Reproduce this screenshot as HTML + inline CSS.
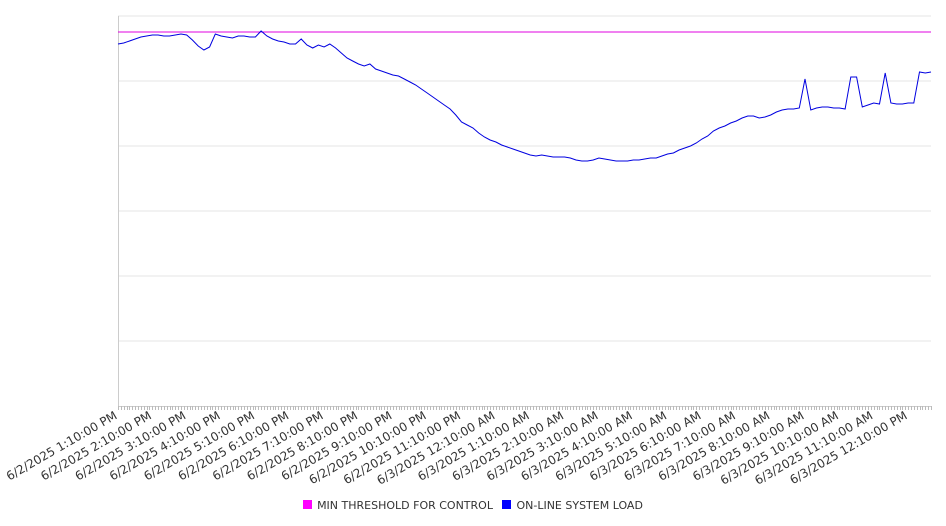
<!DOCTYPE html>
<html><head><meta charset="utf-8"><style>
body{margin:0;background:#fff;font-family:"DejaVu Sans","Liberation Sans",sans-serif}
svg{display:block}
</style></head><body>
<svg id="chart" width="946" height="526" xmlns="http://www.w3.org/2000/svg"></svg>
<script>
const timeLabels=["6/2/2025 1:10:00 PM","6/2/2025 2:10:00 PM","6/2/2025 3:10:00 PM","6/2/2025 4:10:00 PM","6/2/2025 5:10:00 PM","6/2/2025 6:10:00 PM","6/2/2025 7:10:00 PM","6/2/2025 8:10:00 PM","6/2/2025 9:10:00 PM","6/2/2025 10:10:00 PM","6/2/2025 11:10:00 PM","6/3/2025 12:10:00 AM","6/3/2025 1:10:00 AM","6/3/2025 2:10:00 AM","6/3/2025 3:10:00 AM","6/3/2025 4:10:00 AM","6/3/2025 5:10:00 AM","6/3/2025 6:10:00 AM","6/3/2025 7:10:00 AM","6/3/2025 8:10:00 AM","6/3/2025 9:10:00 AM","6/3/2025 10:10:00 AM","6/3/2025 11:10:00 AM","6/3/2025 12:10:00 PM"];
const loadValues=[362,363,365,367,369,370,371,371,370,370,371,372,371,366,360,356,359,372,370,369,368,370,370,369,369,375,370,367,365,364,362,362,367,361,358,361,359,362,358,353,348,345,342,340,342,337,335,333,331,330,327,324,321,317,313,309,305,301,297,291,284,281,278,273,269,266,264,261,259,257,255,253,251,250,251,250,249,249,249,248,246,245,245,246,248,247,246,245,245,245,246,246,247,248,248,250,252,253,256,258,260,263,267,270,275,278,280,283,285,288,290,290,288,289,291,294,296,297,297,298,327,296,298,299,299,298,298,297,329,329,299,301,303,302,333,303,302,302,303,303,334,333,334];
const thresholdValue=374;
const yMax=390, yGridStep=65;
const NS="http://www.w3.org/2000/svg";
const svg=document.getElementById('chart');
const L=118,R=931,T=16,B=406;
const stepsPerLabel=6, minorPerStep=2;
const nSteps=loadValues.length-1;
function xs(i){return L+(R-L)*i/nSteps;}
function ys(v){return B-(B-T)*v/yMax;}
function mk(tag,attrs){const e=document.createElementNS(NS,tag);for(const k in attrs)e.setAttribute(k,attrs[k]);svg.appendChild(e);return e;}
for(let v=yGridStep;v<=yMax;v+=yGridStep){
  const g=mk('line',{x1:L,x2:R,y1:ys(v),y2:ys(v),stroke:'#e6e6e6','stroke-width':1});
  
  
}
const ax=mk('line',{x1:L+0.5,x2:L+0.5,y1:T,y2:B,stroke:'#ccc'});


const bx=mk('line',{x1:L,x2:R,y1:B+0.5,y2:B+0.5,stroke:'#ccc'});


let d='';
for(let i=0;i<=nSteps*minorPerStep;i++){const x=Math.round(L+(R-L)*i/(nSteps*minorPerStep))+0.5;d+='M'+x+' '+B+'V'+(B+4);}
const tk=mk('path',{d:d,stroke:'#bbb','stroke-width':1,fill:'none'});


timeLabels.forEach((t,i)=>{
  const x=xs(i*stepsPerLabel);
  const tx=mk('text',{x:x,y:B+12,'text-anchor':'end','font-size':12,fill:'#333',transform:'rotate(-30 '+x+' '+(B+12)+')'});
  tx.textContent=t;
  
  
});
const th=mk('line',{x1:L,x2:R,y1:ys(thresholdValue),y2:ys(thresholdValue),stroke:'#e000e0','stroke-width':1});


const pts=loadValues.map((v,i)=>xs(i).toFixed(1)+','+ys(v).toFixed(1)).join(' ');
const ln=mk('polyline',{points:pts,fill:'none',stroke:'#0000e0','stroke-width':1});


</script>
<div style="position:absolute;left:0;top:499px;width:946px;text-align:center;font-size:11px;color:#333">
 <span><span style="display:inline-block;width:9px;height:9px;background:#ff00ff;margin-right:5px"></span>MIN THRESHOLD FOR CONTROL</span>
 <span style="margin-left:6px"><span style="display:inline-block;width:9px;height:9px;background:#0000ff;margin-right:5px"></span>ON-LINE SYSTEM LOAD</span>
</div>
</body></html>
